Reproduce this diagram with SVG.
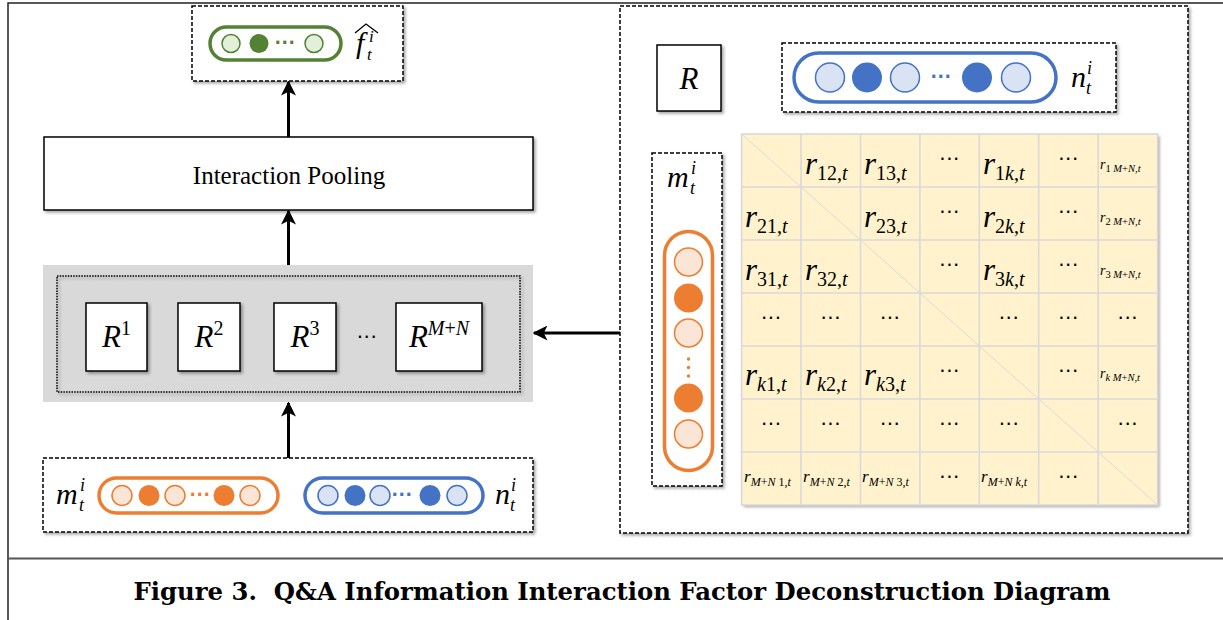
<svg xmlns="http://www.w3.org/2000/svg" width="1223" height="620" viewBox="0 0 1223 620">
<defs>
<filter id="sh" x="-10%" y="-10%" width="120%" height="130%"><feDropShadow dx="2" dy="2" stdDeviation="1.5" flood-color="#000" flood-opacity="0.35"/></filter>
<marker id="ah" viewBox="0 0 10 10" refX="9" refY="5" markerWidth="5" markerHeight="5" orient="auto"><path d="M0,0 L10,5 L0,10 L2.5,5 Z" fill="#000"/></marker>
<style>
.dash{fill:#fff;stroke:#000;stroke-width:1.5;stroke-dasharray:4 2}
.box{fill:#fff;stroke:#000;stroke-width:1.5}
.math{font-family:"Liberation Serif",serif;font-style:italic;fill:#000}
.up{font-style:normal}
.arr{stroke:#000;stroke-width:3;fill:none;marker-end:url(#ah)}
.dots{font-family:"DejaVu Sans",sans-serif;font-size:20px;letter-spacing:0.5px;fill:#000;text-anchor:middle}
.gl{fill:#e2efd9;stroke:#548235;stroke-width:1.5}
.gd{fill:#548235}
.ol{fill:#fbe5d6;stroke:#ed7d31;stroke-width:1.5}
.od{fill:#ed7d31}
.bl{fill:#dae3f3;stroke:#4472c4;stroke-width:1.5}
.bd{fill:#4472c4}
</style>
</defs>
<rect width="1223" height="620" fill="#fff"/>
<!-- frame -->
<path d="M8,620 V3 H1223" fill="none" stroke="#222" stroke-width="1.5"/>
<line x1="8" y1="558.5" x2="1223" y2="558.5" stroke="#555" stroke-width="2"/>

<g id="output-f">
<rect class="dash" x="192" y="6" width="211" height="75" filter="url(#sh)"/>
<rect x="210" y="27" width="131" height="33" rx="16.5" fill="#fff" stroke="#548235" stroke-width="3.5"/>
<circle class="gl" cx="231" cy="43.5" r="9"/>
<circle class="gd" cx="259" cy="43.5" r="9.5"/>
<text x="285" y="49" class="dots" style="fill:#548235;font-weight:bold;font-size:17px">···</text>
<circle class="gl" cx="314" cy="43.5" r="9"/>
<text class="math" x="356" y="53" font-size="30">f</text>
<text class="math" x="367" y="60" font-size="17">t</text>
<text class="math" x="369" y="42" font-size="17">i</text>
<polyline points="355,33 366,24 378,33" fill="none" stroke="#000" stroke-width="1.3"/>
</g>

<g id="interaction-pooling">
<rect class="box" x="44" y="137" width="489" height="73" filter="url(#sh)"/>
<text x="289" y="184" text-anchor="middle" font-family="Liberation Serif,serif" font-size="25">Interaction Pooling</text>
</g>

<g id="r-stack">
<rect x="43" y="265" width="490" height="137" fill="#d9d9d9"/>
<rect x="57" y="276" width="463" height="116" fill="none" stroke="#000" stroke-width="1.5" stroke-dasharray="1.5 1.2" filter="url(#sh)"/>
<rect class="box" x="86" y="303" width="61" height="68" filter="url(#sh)"/>
<text class="math" x="116.5" y="347" font-size="31" text-anchor="middle">R<tspan class="up" font-size="20" dy="-12">1</tspan></text>
<rect class="box" x="178" y="303" width="62" height="68" filter="url(#sh)"/>
<text class="math" x="209" y="347" font-size="31" text-anchor="middle">R<tspan class="up" font-size="20" dy="-12">2</tspan></text>
<rect class="box" x="274" y="303" width="62" height="68" filter="url(#sh)"/>
<text class="math" x="305" y="347" font-size="31" text-anchor="middle">R<tspan class="up" font-size="20" dy="-12">3</tspan></text>
<text x="367" y="344" class="dots">···</text>
<rect class="box" x="396" y="303" width="86" height="68" filter="url(#sh)"/>
<text class="math" x="439" y="347" font-size="31" text-anchor="middle">R<tspan font-size="20" dy="-12">M</tspan><tspan class="up" font-size="20">+</tspan><tspan font-size="20">N</tspan></text>
</g>

<g id="input-mn">
<rect class="dash" x="43" y="458" width="490" height="74" filter="url(#sh)"/>
<text class="math" x="56" y="504" font-size="30">m</text>
<text class="math" x="79" y="511" font-size="18">t</text>
<text class="math" x="80" y="491" font-size="18">i</text>
<rect x="99" y="478" width="179" height="35" rx="17.5" fill="#fff" stroke="#ed7d31" stroke-width="3.5"/>
<circle class="ol" cx="122" cy="495.5" r="10"/>
<circle class="od" cx="149" cy="495.5" r="10.5"/>
<circle class="ol" cx="175" cy="495.5" r="10"/>
<text x="200" y="501" class="dots" style="fill:#ed7d31;font-weight:bold;font-size:17px">···</text>
<circle class="od" cx="224" cy="495.5" r="10.5"/>
<circle class="ol" cx="250" cy="495.5" r="10"/>
<rect x="305" y="478" width="178" height="35" rx="17.5" fill="#fff" stroke="#4472c4" stroke-width="3.5"/>
<circle class="bl" cx="328" cy="495.5" r="10"/>
<circle class="bd" cx="355" cy="495.5" r="10.5"/>
<circle class="bl" cx="380" cy="495.5" r="10"/>
<text x="402" y="501" class="dots" style="fill:#4472c4;font-weight:bold;font-size:17px">···</text>
<circle class="bd" cx="430" cy="495.5" r="10.5"/>
<circle class="bl" cx="457" cy="495.5" r="10"/>
<text class="math" x="495" y="504" font-size="30">n</text>
<text class="math" x="510" y="511" font-size="18">t</text>
<text class="math" x="511" y="491" font-size="18">i</text>
</g>

<g id="relation-matrix-panel">
<rect class="dash" x="620" y="6" width="568" height="527" filter="url(#sh)"/>
<rect class="box" x="657" y="45" width="64" height="66" filter="url(#sh)"/>
<text class="math" x="689" y="89" font-size="31" text-anchor="middle">R</text>
<rect class="dash" x="782" y="43" width="334" height="69" filter="url(#sh)"/>
<rect x="794" y="53" width="262" height="49" rx="24.5" fill="#fff" stroke="#4472c4" stroke-width="3.5"/>
<circle class="bl" cx="830" cy="77.5" r="14.5"/>
<circle class="bd" cx="867" cy="77.5" r="15"/>
<circle class="bl" cx="905" cy="77.5" r="14.5"/>
<text x="941" y="83" class="dots" style="fill:#4472c4;font-weight:bold;font-size:17px">···</text>
<circle class="bd" cx="977" cy="77.5" r="15"/>
<circle class="bl" cx="1016" cy="77.5" r="14.5"/>
<text class="math" x="1071" y="87" font-size="30">n</text>
<text class="math" x="1086" y="94" font-size="18">t</text>
<text class="math" x="1087" y="74" font-size="18">i</text>

<rect class="dash" x="652" y="153" width="70" height="333" filter="url(#sh)"/>
<text class="math" x="667" y="187" font-size="30">m</text>
<text class="math" x="690" y="194" font-size="18">t</text>
<text class="math" x="691" y="174" font-size="18">i</text>
<rect x="664.5" y="231.5" width="48" height="239" rx="24" fill="#fff" stroke="#ed7d31" stroke-width="3.5"/>
<circle class="ol" cx="688.5" cy="262" r="14"/>
<circle class="od" cx="688.5" cy="298" r="14.5"/>
<circle class="ol" cx="688.5" cy="333" r="14"/>
<circle class="od" cx="688.5" cy="359" r="1.7"/>
<circle class="od" cx="688.5" cy="367.5" r="1.7"/>
<circle class="od" cx="688.5" cy="376" r="1.7"/>
<circle class="od" cx="688.5" cy="398" r="14.5"/>
<circle class="ol" cx="688.5" cy="434" r="14"/>
</g>

<g id="matrix">
<rect x="741.6" y="134" width="416" height="371" fill="#fff2cc" filter="url(#sh)"/>
<g stroke="#d9d9d9" stroke-width="1.6" fill="none">
<rect x="741.6" y="134" width="416" height="371"/>
<path d="M801,134V505M860.5,134V505M919.9,134V505M979.3,134V505M1038.7,134V505M1098.2,134V505"/>
<path d="M741.6,187H1157.6M741.6,240H1157.6M741.6,293H1157.6M741.6,346H1157.6M741.6,399H1157.6M741.6,452H1157.6"/>
<line x1="741.6" y1="134" x2="1157.6" y2="505" stroke-width="1"/>
</g>
<g class="math" font-size="31">
<text x="805" y="174">r<tspan class="up" font-size="20" dy="6">12,</tspan><tspan font-size="20">t</tspan></text>
<text x="864" y="174">r<tspan class="up" font-size="20" dy="6">13,</tspan><tspan font-size="20">t</tspan></text>
<text x="983" y="174">r<tspan class="up" font-size="20" dy="6">1</tspan><tspan font-size="20">k</tspan><tspan class="up" font-size="20">,</tspan><tspan font-size="20">t</tspan></text>
<text x="745" y="227">r<tspan class="up" font-size="20" dy="6">21,</tspan><tspan font-size="20">t</tspan></text>
<text x="864" y="227">r<tspan class="up" font-size="20" dy="6">23,</tspan><tspan font-size="20">t</tspan></text>
<text x="983" y="227">r<tspan class="up" font-size="20" dy="6">2</tspan><tspan font-size="20">k</tspan><tspan class="up" font-size="20">,</tspan><tspan font-size="20">t</tspan></text>
<text x="745" y="280">r<tspan class="up" font-size="20" dy="6">31,</tspan><tspan font-size="20">t</tspan></text>
<text x="805" y="280">r<tspan class="up" font-size="20" dy="6">32,</tspan><tspan font-size="20">t</tspan></text>
<text x="983" y="280">r<tspan class="up" font-size="20" dy="6">3</tspan><tspan font-size="20">k</tspan><tspan class="up" font-size="20">,</tspan><tspan font-size="20">t</tspan></text>
<text x="745" y="385">r<tspan font-size="20" dy="6">k</tspan><tspan class="up" font-size="20">1,</tspan><tspan font-size="20">t</tspan></text>
<text x="805" y="385">r<tspan font-size="20" dy="6">k</tspan><tspan class="up" font-size="20">2,</tspan><tspan font-size="20">t</tspan></text>
<text x="864" y="385">r<tspan font-size="20" dy="6">k</tspan><tspan class="up" font-size="20">3,</tspan><tspan font-size="20">t</tspan></text>
</g>
<g class="math" font-size="14">
<text x="1100" y="169">r<tspan class="up" font-size="10.5" dy="3">1 </tspan><tspan font-size="10.5">M</tspan><tspan class="up" font-size="10.5">+</tspan><tspan font-size="10.5">N</tspan><tspan class="up" font-size="10.5">,</tspan><tspan font-size="10.5">t</tspan></text>
<text x="1100" y="222">r<tspan class="up" font-size="10.5" dy="3">2 </tspan><tspan font-size="10.5">M</tspan><tspan class="up" font-size="10.5">+</tspan><tspan font-size="10.5">N</tspan><tspan class="up" font-size="10.5">,</tspan><tspan font-size="10.5">t</tspan></text>
<text x="1100" y="275">r<tspan class="up" font-size="10.5" dy="3">3 </tspan><tspan font-size="10.5">M</tspan><tspan class="up" font-size="10.5">+</tspan><tspan font-size="10.5">N</tspan><tspan class="up" font-size="10.5">,</tspan><tspan font-size="10.5">t</tspan></text>
<text x="1100" y="378">r<tspan font-size="10.5" dy="3">k M</tspan><tspan class="up" font-size="10.5">+</tspan><tspan font-size="10.5">N</tspan><tspan class="up" font-size="10.5">,</tspan><tspan font-size="10.5">t</tspan></text>
</g>
<g class="math" font-size="17">
<text x="744" y="482">r<tspan font-size="12" dy="4">M</tspan><tspan class="up" font-size="12">+</tspan><tspan font-size="12">N</tspan><tspan class="up" font-size="12"> 1,</tspan><tspan font-size="12">t</tspan></text>
<text x="803" y="482">r<tspan font-size="12" dy="4">M</tspan><tspan class="up" font-size="12">+</tspan><tspan font-size="12">N</tspan><tspan class="up" font-size="12"> 2,</tspan><tspan font-size="12">t</tspan></text>
<text x="862" y="482">r<tspan font-size="12" dy="4">M</tspan><tspan class="up" font-size="12">+</tspan><tspan font-size="12">N</tspan><tspan class="up" font-size="12"> 3,</tspan><tspan font-size="12">t</tspan></text>
<text x="981" y="482">r<tspan font-size="12" dy="4">M</tspan><tspan class="up" font-size="12">+</tspan><tspan font-size="12">N k,t</tspan></text>
</g>
<g class="dots">
<text x="949.6" y="166">···</text><text x="1068.5" y="166">···</text>
<text x="949.6" y="219">···</text><text x="1068.5" y="219">···</text>
<text x="949.6" y="272">···</text><text x="1068.5" y="272">···</text>
<text x="771.3" y="325">···</text><text x="830.8" y="325">···</text><text x="890.2" y="325">···</text><text x="1009" y="325">···</text><text x="1068.5" y="325">···</text><text x="1127.9" y="325">···</text>
<text x="949.6" y="378">···</text><text x="1068.5" y="378">···</text>
<text x="771.3" y="431">···</text><text x="830.8" y="431">···</text><text x="890.2" y="431">···</text><text x="949.6" y="431">···</text><text x="1009" y="431">···</text><text x="1127.9" y="431">···</text>
<text x="949.6" y="484">···</text><text x="1068.5" y="484">···</text>
</g>
</g>

<g id="connectors">
<line class="arr" x1="288.5" y1="137" x2="288.5" y2="82"/>
<line class="arr" x1="288.5" y1="265" x2="288.5" y2="211"/>
<line class="arr" x1="288.5" y1="458" x2="288.5" y2="403"/>
<line class="arr" x1="620" y1="333" x2="534" y2="333"/>
</g>

<text x="622" y="600" text-anchor="middle" font-family="DejaVu Serif,serif" font-weight="bold" font-size="24" textLength="977" lengthAdjust="spacingAndGlyphs">Figure 3.&#160; Q&amp;A Information Interaction Factor Deconstruction Diagram</text>
</svg>
